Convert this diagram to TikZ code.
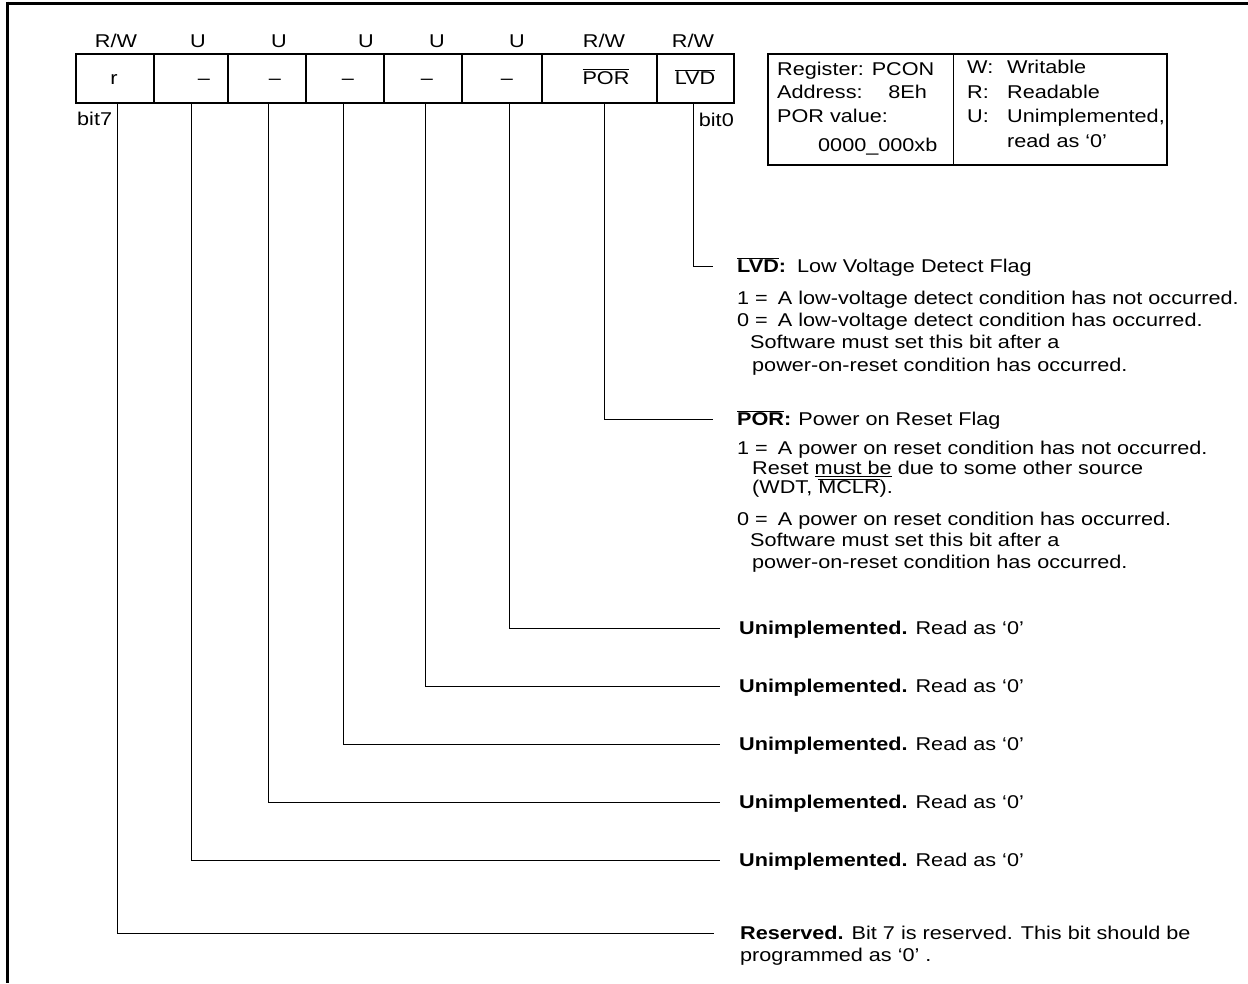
\documentclass[tikz,border=0pt]{standalone}
\usepackage{fontspec}
\setmainfont[FakeStretch=1.17]{Liberation Sans}
\newcommand\ovl[1]{\ensuremath{\overline{\hbox{#1}}}}
\newcommand\eqsp{\hspace{10pt}}
\begin{document}
\begin{tikzpicture}[x=1pt,y=-1pt,
  font=\fontsize{18.5}{22}\selectfont,
  frame/.style={line width=3pt},
  cellbox/.style={draw, line width=1.3pt, inner sep=0pt, minimum height=49pt},
  conn/.style={line width=1pt},
  lbl/.style={inner sep=0pt, anchor=base},
  desc/.style={inner sep=0pt, anchor=west, text height=13pt, text depth=0pt},
]
\useasboundingbox (0,0) rectangle (1248,983);
% outer frame
\draw[frame] (6,3) -- (1248,3);
\draw[frame] (7.5,1.5) -- (7.5,983);

% register cells
\node[cellbox, minimum width=78pt]  (c7) at (115,78.5) {};
\node[cellbox, minimum width=74pt]  (c6) at (191,78.5) {};
\node[cellbox, minimum width=78pt]  (c5) at (267,78.5) {};
\node[cellbox, minimum width=78pt]  (c4) at (345,78.5) {};
\node[cellbox, minimum width=78pt]  (c3) at (423,78.5) {};
\node[cellbox, minimum width=80pt]  (c2) at (502,78.5) {};
\node[cellbox, minimum width=115pt] (c1) at (599.5,78.5) {};
\node[cellbox, minimum width=77pt]  (c0) at (695.5,78.5) {};

% cell contents
\node[lbl] (v7) at (114,84) {r};
\node[lbl] (v6) at (204,84) {–};
\node[lbl] (v5) at (275,84) {–};
\node[lbl] (v4) at (348,84) {–};
\node[lbl] (v3) at (427,84) {–};
\node[lbl] (v2) at (507,84) {–};
\node[lbl] (v1) at (606,84) {\ovl{POR}};
\node[lbl] (v0) at (695,84) {\ovl{LVD}};

% access labels
\node[lbl] (a7) at (116,47) {R/W};
\node[lbl] (a6) at (198,47) {U};
\node[lbl] (a5) at (279,47) {U};
\node[lbl] (a4) at (366,47) {U};
\node[lbl] (a3) at (437,47) {U};
\node[lbl] (a2) at (517,47) {U};
\node[lbl] (a1) at (604,47) {R/W};
\node[lbl] (a0) at (693,47) {R/W};

\node[inner sep=0pt, anchor=base west] (bit7) at (77,125) {bit7};
\node[inner sep=0pt, anchor=base east] (bit0) at (734,126) {bit0};

% info box
\node[draw, line width=1.2pt, inner sep=0pt, minimum width=399pt, minimum height=111pt] (info) at (967.5,109.5) {};
\draw[line width=1.2pt] ([xshift=186pt]info.north west) -- ([xshift=186pt]info.south west);
\node[desc] (i1) at (777,69) {Register:\hspace{8pt}PCON};
\node[desc] (i2) at (777,92) {Address:};
\node[inner sep=0pt, anchor=base east] (i2b) at (927,98.5) {8Eh};
\node[desc] (i3) at (777,116) {POR value:};
\node[desc] (i4) at (818,145) {0000\_000xb};
\node[desc] (j1) at (967,67) {W:};
\node[desc] (j1b) at (1007,67) {Writable};
\node[desc] (j2) at (967,92) {R:};
\node[desc] (j2b) at (1007,92) {Readable};
\node[desc] (j3) at (967,116) {U:};
\node[desc] (j3b) at (1007,116) {Unimplemented,};
\node[desc] (j4b) at (1007,141) {read as ‘0’};

% bit line tops
\coordinate (t7) at (117,103);
\coordinate (t6) at (191,103);
\coordinate (t5) at (268,103);
\coordinate (t4) at (343,103);
\coordinate (t3) at (425,103);
\coordinate (t2) at (509,103);
\coordinate (t1) at (604,103);
\coordinate (t0) at (693,103);

% descriptions
\node[desc] (lvd) at (737,266) {\textbf{\ovl{LVD}:}\hspace{11pt}Low Voltage Detect Flag};
\node[desc] (lvd1) at (737,298) {1 =\eqsp A low-voltage detect condition has not occurred.};
\node[desc] (lvd2) at (737,320) {0 =\eqsp A low-voltage detect condition has occurred.};
\node[desc] (lvd3) at (750,342) {Software must set this bit after a};
\node[desc] (lvd4) at (752,365) {power-on-reset condition has occurred.};

\node[desc] (por) at (737,419) {\textbf{\ovl{POR}:}\hspace{7pt}Power on Reset Flag};
\node[desc] (por1) at (737,448) {1 =\eqsp A power on reset condition has not occurred.};
\node[desc] (por2) at (752,468) {Reset \underline{must be} due to some other source};
\node[desc] (por3) at (752,487) {(WDT, \ovl{MCLR}).};
\node[desc] (por4) at (737,519) {0 =\eqsp A power on reset condition has occurred.};
\node[desc] (por5) at (750,540) {Software must set this bit after a};
\node[desc] (por6) at (752,562) {power-on-reset condition has occurred.};

\node[desc] (u5) at (739,628) {\textbf{Unimplemented.} Read as ‘0’};
\node[desc] (u4) at (739,686) {\textbf{Unimplemented.} Read as ‘0’};
\node[desc] (u3) at (739,744) {\textbf{Unimplemented.} Read as ‘0’};
\node[desc] (u2) at (739,802) {\textbf{Unimplemented.} Read as ‘0’};
\node[desc] (u1) at (739,860) {\textbf{Unimplemented.} Read as ‘0’};
\node[desc] (res) at (740,933) {\textbf{Reserved.} Bit 7 is reserved. This bit should be};
\node[desc] (res2) at (740,955) {programmed as ‘0’ .};

% connectors
\draw[conn] (t0) |- ([xshift=-24pt]lvd.west);
\draw[conn] (t1) |- ([xshift=-24pt]por.west);
\draw[conn] (t2) |- ([xshift=-19pt]u5.west);
\draw[conn] (t3) |- ([xshift=-19pt]u4.west);
\draw[conn] (t4) |- ([xshift=-19pt]u3.west);
\draw[conn] (t5) |- ([xshift=-19pt]u2.west);
\draw[conn] (t6) |- ([xshift=-19pt]u1.west);
\draw[conn] (t7) |- ([xshift=-26pt]res.west);
\end{tikzpicture}
\end{document}
